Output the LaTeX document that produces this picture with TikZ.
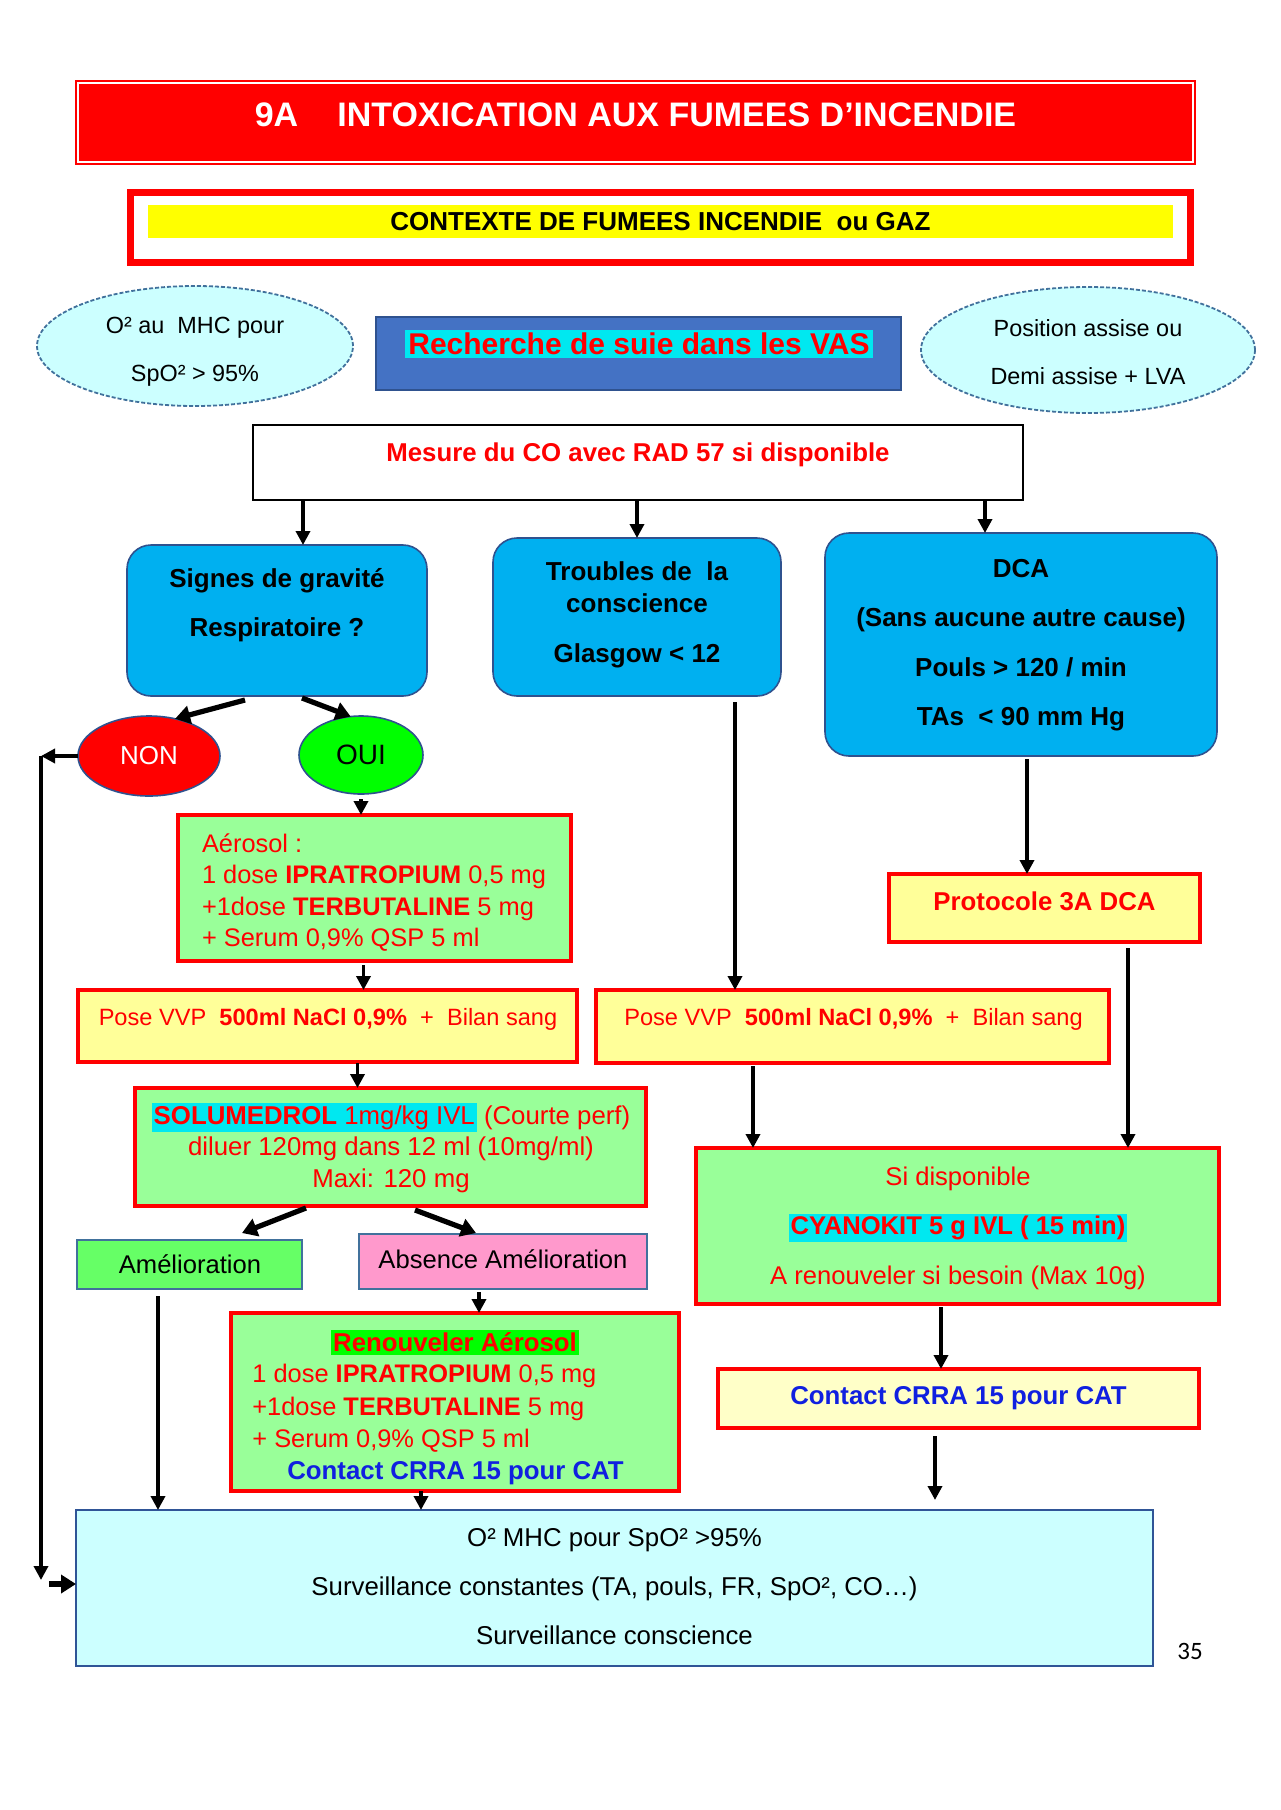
\documentclass[tikz,border=0pt]{standalone}
\usepackage{fontspec}
\setmainfont{Liberation Sans}
\newfontfamily\pgnumfont{Carlito}
\usetikzlibrary{arrows.meta,shapes.geometric,calc}
\definecolor{tred}{HTML}{FF0000}
\definecolor{ellfill}{HTML}{CCFFFF}
\definecolor{ellline}{HTML}{41719C}
\definecolor{royal}{HTML}{4472C4}
\definecolor{darkline}{HTML}{2F528F}
\definecolor{sky}{HTML}{00B0F0}
\definecolor{lgreen}{HTML}{99FF99}
\definecolor{lyellow}{HTML}{FFFF99}
\definecolor{pyellow}{HTML}{FFFFC8}
\definecolor{agreen}{HTML}{66FF66}
\definecolor{mypink}{HTML}{FF99CC}
\definecolor{hcyan}{HTML}{00E8F0}
\definecolor{hgreen}{HTML}{00FF00}
\definecolor{tblue}{HTML}{1020E0}
\definecolor{yel}{HTML}{FFFF00}
\definecolor{botfill}{HTML}{CCFFFF}
\definecolor{botline}{HTML}{2F5597}
\newcommand\myfs[2]{\fontsize{#1}{#2}\selectfont}
\setlength{\fboxsep}{1pt}
\begin{document}
\begin{tikzpicture}[x=0.5pt,y=-0.5pt,
  box/.style={rectangle,inner sep=0pt,outer sep=0pt},
  redbox/.style={box,draw=tred,line width=2.2pt},
  greenbox/.style={redbox,fill=lgreen},
  yellowbox/.style={redbox,fill=lyellow},
  skybox/.style={box,rounded corners=12pt,draw=darkline,line width=0.8pt,fill=sky},
  ell/.style={ellipse,inner sep=0pt,outer sep=0pt,fill=ellfill,draw=ellline,line width=0.9pt,dash pattern=on 2pt off 1pt},
  txt/.style={inner sep=0pt,align=center},
  elltxt/.style={txt,font=\myfs{11.7}{24}},
  arr/.style={line width=1.8pt,-{Triangle[length=7pt,width=7pt]}},
  bigarr/.style={line width=2.6pt,-{Triangle[length=7.5pt,width=9pt]}}]
\useasboundingbox[fill=white] (0,0) rectangle (1280,1810);

% title
\node[box,fill=tred,draw=tred,double=white,double distance=1pt,line width=0.8pt,
  minimum width=557.5pt,minimum height=39.5pt] (title) at (635.5,122.5) {};
\node[txt,text=white,font=\bfseries\myfs{17}{20}] (titletxt) at (635.5,115)
  {9A\hspace{1.15em}INTOXICATION AUX FUMEES D’INCENDIE};

% context
\node[box,draw=tred,line width=3.5pt,fill=white,minimum width=530pt,minimum height=35pt] (ctx) at (660,227.5) {};
\node[box,fill=yel,minimum width=512.5pt,minimum height=16.5pt,font=\bfseries\myfs{13}{15}] (ctxbar) at (660.5,221.5)
  {CONTEXTE DE FUMEES INCENDIE\ \ ou GAZ};

% top row
\node[ell,minimum width=158pt,minimum height=60pt] (o2) at (195,346) {};
\node[elltxt] (o2txt) at (195,352) {O² au\ \ MHC pour\\SpO² > 95\%};
\node[box,fill=royal,draw=darkline,line width=0.6pt,minimum width=262.5pt,minimum height=36.5pt] (vas) at (638.5,353.5) {};
\node[box,fill=hcyan,inner xsep=1.5pt,inner ysep=1.5pt,text=tred,font=\bfseries\myfs{15}{17}] (vastxt) at (639,344)
  {Recherche de suie dans les VAS};
\node[ell,minimum width=167pt,minimum height=63pt] (pos) at (1088,350) {};
\node[elltxt] (postxt) at (1088,352) {Position assise ou\\Demi assise + LVA};

% mesure
\node[box,draw=black,line width=1.3pt,fill=white,minimum width=385pt,minimum height=37.5pt] (mesure) at (638,462.5) {};
\node[txt,text=tred,font=\bfseries\myfs{12.9}{15}] (mesuretxt) at (638,455) {Mesure du CO avec RAD 57 si disponible};

% blue boxes
\node[skybox,minimum width=150pt,minimum height=75.5pt] (signes) at (277,620.5) {};
\node[txt,font=\bfseries\myfs{13}{24.5}] (signestxt) at (277,605) {Signes de gravité\\Respiratoire ?};
\node[skybox,minimum width=144pt,minimum height=79pt] (troubles) at (637,617) {};
\node[txt,font=\bfseries\myfs{13}{16}] (troublestxt) at (637,614.5) {Troubles de\ \ la\\conscience\\[9pt]Glasgow < 12};
\node[skybox,minimum width=196pt,minimum height=111.5pt] (dca) at (1021,644.5) {};
\node[txt,font=\bfseries\myfs{13}{24.7}] (dcatxt) at (1021,645) {DCA\\(Sans aucune autre cause)\\Pouls > 120 / min\\TAs\ \ < 90 mm Hg};

% NON / OUI
\node[ellipse,inner sep=0pt,outer sep=0pt,fill=tred,draw=darkline,line width=0.8pt,minimum width=71pt,minimum height=40pt,
  text=white,font=\myfs{13}{15}] (non) at (149,756) {NON};
\node[ellipse,inner sep=0pt,outer sep=0pt,fill=hgreen,draw=darkline,line width=0.8pt,minimum width=62pt,minimum height=39pt,
  font=\myfs{14}{16}] (oui) at (361,755) {OUI};

% left column
\node[greenbox,minimum width=196.5pt,minimum height=73pt] (aerosol) at (374.5,888) {};
\node[txt,align=left,text=tred,font=\myfs{12.7}{15.7}] (aerosoltxt) at (374,892.5)
  {Aérosol :\\1 dose \textbf{IPRATROPIUM} 0,5 mg\\+1dose \textbf{TERBUTALINE} 5 mg\\+ Serum 0,9\% QSP 5 ml};

\node[yellowbox,minimum width=249.5pt,minimum height=36pt] (poseL) at (327.5,1026) {};
\node[txt,text=tred,font=\myfs{11.8}{14}] (poseLtxt) at (328,1019.5)
  {Pose VVP\ \ \textbf{500ml NaCl 0,9\%}\ \ +\ \ Bilan sang};

\node[greenbox,minimum width=255.5pt,minimum height=59pt] (solu) at (390.5,1147) {};
\node[txt,text=tred,font=\myfs{12.9}{15.75}] (solutxt) at (391,1148)
  {\colorbox{hcyan}{\textbf{SOLUMEDROL} 1mg/kg IVL} (Courte perf)\\diluer 120mg dans 12 ml (10mg/ml)\\Maxi: 120 mg};

\node[box,fill=agreen,draw=ellline,line width=0.8pt,minimum width=112.5pt,minimum height=24.5pt] (amel) at (189.5,1264.5) {};
\node[txt,font=\myfs{12.8}{15}] (ameltxt) at (190,1264.5) {Amélioration};
\node[box,fill=mypink,draw=ellline,line width=0.8pt,minimum width=144pt,minimum height=27.5pt] (absence) at (503,1261.5) {};
\node[txt,font=\myfs{12.8}{15}] (absencetxt) at (503,1259.5) {Absence Amélioration};

\node[greenbox,minimum width=224pt,minimum height=89pt] (renouv) at (455,1402) {};
\node[box,fill=hgreen,inner xsep=1pt,inner ysep=1.5pt,text=tred,font=\bfseries\myfs{12.9}{15}] (renouvtitle) at (455,1342.5) {Renouveler Aérosol};
\node[txt,align=left,anchor=west,text=tred,font=\myfs{12.7}{16.2}] (renouvtxt) at (252,1408.5)
  {1 dose \textbf{IPRATROPIUM} 0,5 mg\\+1dose \textbf{TERBUTALINE} 5 mg\\+ Serum 0,9\% QSP 5 ml};
\node[txt,text=tblue,font=\bfseries\myfs{12.9}{15}] (renouvcontact) at (455.5,1473) {Contact CRRA 15 pour CAT};

% right columns
\node[yellowbox,minimum width=256.5pt,minimum height=36.5pt] (poseR) at (852.5,1026.5) {};
\node[txt,text=tred,font=\myfs{11.8}{14}] (poseRtxt) at (853.5,1019.5)
  {Pose VVP\ \ \textbf{500ml NaCl 0,9\%}\ \ +\ \ Bilan sang};

\node[yellowbox,minimum width=155.5pt,minimum height=34pt] (proto) at (1044.5,908) {};
\node[txt,text=tred,font=\bfseries\myfs{12.9}{15}] (prototxt) at (1044.5,901.5) {Protocole 3A DCA};

\node[greenbox,minimum width=261.5pt,minimum height=78pt] (cyano) at (957.5,1226) {};
\node[txt,text=tred,font=\myfs{12.8}{24.75}] (cyanotxt) at (958,1228)
  {Si disponible\\\colorbox{hcyan}{\textbf{CYANOKIT 5 g IVL ( 15 min)}}\\A renouveler si besoin (Max 10g)};

\node[redbox,fill=pyellow,minimum width=240.5pt,minimum height=29.5pt] (contact) at (958.5,1398.5) {};
\node[txt,text=tblue,font=\bfseries\myfs{12.9}{15}] (contacttxt) at (958.5,1398.5) {Contact CRRA 15 pour CAT};

% bottom
\node[box,fill=botfill,draw=botline,line width=1pt,minimum width=538.5pt,minimum height=78pt] (bottom) at (614.5,1588) {};
\node[txt,font=\myfs{12.9}{24.5}] (bottomtxt) at (614.5,1586.5)
  {O² MHC pour SpO² >95\%\\Surveillance constantes (TA, pouls, FR, SpO², CO…)\\Surveillance conscience};

\node[txt,font=\pgnumfont\myfs{12.5}{14}] (pagenum) at (1190,1651) {35};

% connectors
\coordinate (a1) at ($(signes.north)+(26,0)$);
\draw[arr] (mesure.south -| a1) -- (a1);
\draw[arr] (mesure.south -| troubles.north) -- (troubles.north);
\coordinate (a3) at ($(dca.north)+(-36,0)$);
\draw[arr] (mesure.south -| a3) -- (a3);

\draw[bigarr] ($(signes.south)+(-32,4)$) -- (non.55);
\draw[bigarr] ($(signes.south)+(25,2)$) -- (oui.105);
\draw[arr] ($(oui.south)+(0,5)$) -- (aerosol.north -| oui.south);

\draw[arr] (non.west) -- ++(-37,0) coordinate (nl);
\draw[arr] (nl) -- ($(nl |- bottom.west)+(0,-8)$);
\draw[bigarr] ($(bottom.west)+(-27,-4)$) -- ($(bottom.west)+(0,-4)$);

\draw[arr] ($(aerosol.south)+(-11,4)$) coordinate (s9) -- (s9 |- poseL.north);
\draw[arr] ($(poseL.south)+(30,1)$) coordinate (s10) -- (s10 |- solu.north);
\draw[arr] ($(troubles.south)+(98,6)$) coordinate (s11) -- (s11 |- poseR.north);
\draw[arr] ($(dca.south)+(6,3)$) coordinate (s12) -- (s12 |- proto.north);
\draw[arr] ($(proto.south)+(83.5,6)$) coordinate (s13) -- (s13 |- cyano.north);
\draw[arr] ($(poseR.south)+(-99.5,3)$) coordinate (s14) -- (s14 |- cyano.north);

\draw[bigarr] ($(solu.south)+(-84.5,2)$) -- ($(amel.north)+(52.5,-7)$);
\draw[bigarr] ($(solu.south)+(24.5,4)$) -- ($(absence.north)+(-27,-1)$);
\draw[arr] ($(absence.south)+(-24,3)$) coordinate (s17) -- (s17 |- renouv.north);
\draw[arr] ($(amel.south)+(-31.5,7)$) coordinate (s18) -- (s18 |- bottom.north);
\draw[arr] ($(renouv.south)+(-34,0)$) coordinate (s19) -- (s19 |- bottom.north);
\draw[arr] ($(cyano.south)+(-16.5,3)$) coordinate (s20) -- (s20 |- contact.north);
\draw[arr] ($(contact.south)+(-23.5,8)$) coordinate (s21) -- ($(s21 |- bottom.north)+(0,-10)$);
\end{tikzpicture}
\end{document}
